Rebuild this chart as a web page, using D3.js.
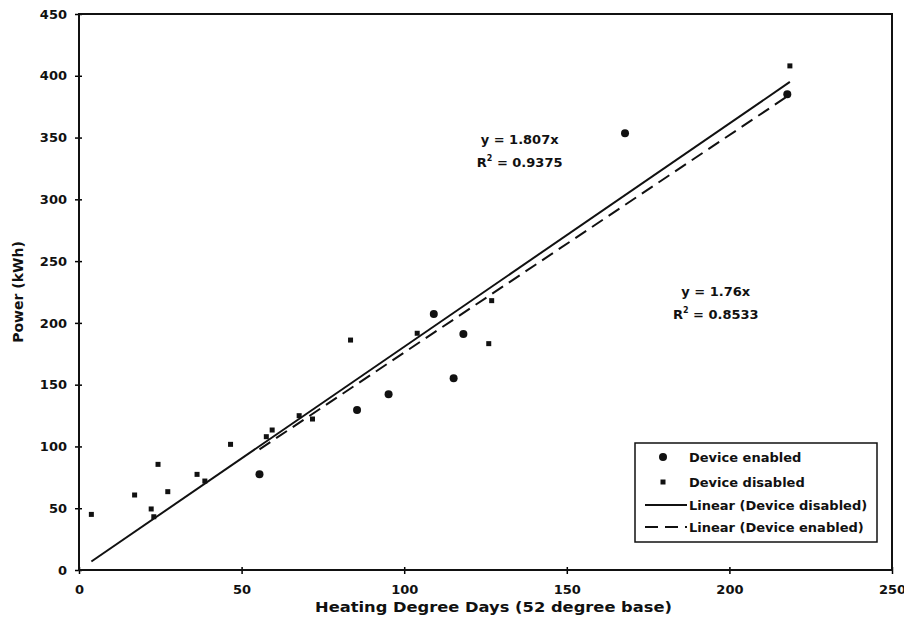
<!DOCTYPE html>
<html>
<head>
<meta charset="utf-8">
<script src="https://cdn.jsdelivr.net/npm/d3@7"></script>
<style>
  body { margin: 0; background: #fff; }
  text { font-family: "DejaVu Sans", sans-serif; font-weight: bold; fill: #111; }
</style>
</head>
<body>
<script>
const WIDTH = 904;
const HEIGHT = 631;

// values
const enabledX = [55.5, 85.5, 95.2, 115.2, 118.2, 109.1, 167.9, 217.8];
const enabledY = [77.5, 129.5, 142.2, 155.1, 191.0, 207.2, 353.4, 385.0];

const disabledX = [3.8, 17.1, 22.2, 23.0, 24.3, 27.3, 36.3, 38.7, 46.6, 57.6, 59.4, 67.7, 71.8, 83.5, 104.0, 126.0, 126.9, 218.6];
const disabledY = [45.0, 60.7, 49.4, 43.1, 85.5, 63.4, 77.4, 72.0, 101.7, 107.9, 113.3, 124.9, 122.2, 186.1, 191.6, 183.2, 218.0, 408.0];

// trendline slopes, as printed on the chart
const slopeDisabled = 1.807;
const slopeEnabled = 1.76;
const r2Disabled = "0.9375";
const r2Enabled = "0.8533";

const xTicks = [0, 50, 100, 150, 200, 250];
const yTicks = [0, 50, 100, 150, 200, 250, 300, 350, 400, 450];

const legendLabels = ["Device enabled", "Device disabled", "Linear (Device disabled)", "Linear (Device enabled)"];

const margin = { top: 14, right: 12, bottom: 61, left: 79 };

const x = d3.scaleLinear().domain([0, 250]).range([margin.left, WIDTH - margin.right]);
const y = d3.scaleLinear().domain([0, 450]).range([HEIGHT - margin.bottom, margin.top]);

const svg = d3.select("body")
  .append("svg")
  .attr("width", WIDTH)
  .attr("height", HEIGHT)
  .attr("xmlns", "http://www.w3.org/2000/svg");

// axes
const yAxis = svg.append("g")
  .attr("transform", `translate(${margin.left},0)`)
  .call(d3.axisLeft(y).tickValues(yTicks).tickSize(4).tickPadding(8));
yAxis.select(".domain").remove();
yAxis.selectAll(".tick line").attr("x1", 3).attr("x2", -4).attr("stroke-width", 1.5);
yAxis.selectAll(".tick text")
  .attr("font-size", 13)
  .attr("font-family", "DejaVu Sans")
  .attr("font-weight", "bold");

const xAxis = svg.append("g")
  .attr("transform", `translate(0,${y(0)})`)
  .call(d3.axisBottom(x).tickValues(xTicks).tickSize(4).tickPadding(11));
xAxis.select(".domain").remove();
xAxis.selectAll(".tick line").attr("y1", -3).attr("y2", 4).attr("stroke-width", 1.5);
xAxis.selectAll(".tick text")
  .attr("font-size", 13)
  .attr("font-family", "DejaVu Sans")
  .attr("font-weight", "bold");

// plot frame
svg.append("rect")
  .attr("x", x(0))
  .attr("y", y(450))
  .attr("width", x(250) - x(0))
  .attr("height", y(0) - y(450))
  .attr("fill", "none")
  .attr("stroke", "#111")
  .attr("stroke-width", 2);

// axis titles
svg.append("text")
  .attr("x", (x(0) + x(250)) / 2 + 8)
  .attr("y", 612)
  .attr("text-anchor", "middle")
  .attr("font-size", 14)
  .attr("textLength", 357)
  .attr("lengthAdjust", "spacingAndGlyphs")
  .text("Heating Degree Days (52 degree base)");

svg.append("text")
  .attr("transform", `translate(23,${(y(0) + y(450)) / 2}) rotate(-90)`)
  .attr("text-anchor", "middle")
  .attr("font-size", 14)
  .text("Power (kWh)");

// trendlines, drawn over each series' x range
const line = d3.line().x(d => x(d[0])).y(d => y(d[1]));

const dExt = d3.extent(disabledX);
svg.append("path")
  .datum(dExt.map(v => [v, slopeDisabled * v]))
  .attr("d", line)
  .attr("fill", "none")
  .attr("stroke", "#111")
  .attr("stroke-width", 2);

const eExt = d3.extent(enabledX);
svg.append("path")
  .datum(eExt.map(v => [v, slopeEnabled * v]))
  .attr("d", line)
  .attr("fill", "none")
  .attr("stroke", "#111")
  .attr("stroke-width", 2)
  .attr("stroke-dasharray", "13,7");

// points
svg.append("g")
  .selectAll("circle")
  .data(d3.zip(enabledX, enabledY))
  .join("circle")
  .attr("cx", d => x(d[0]))
  .attr("cy", d => y(d[1]))
  .attr("r", 4)
  .attr("fill", "#111");

svg.append("g")
  .selectAll("rect")
  .data(d3.zip(disabledX, disabledY))
  .join("rect")
  .attr("x", d => x(d[0]) - 2.5)
  .attr("y", d => y(d[1]) - 2.5)
  .attr("width", 5)
  .attr("height", 5)
  .attr("fill", "#111");

// equation labels
function equation(cx, cy, slope, r2) {
  svg.append("text")
    .attr("x", cx)
    .attr("y", cy)
    .attr("text-anchor", "middle")
    .attr("font-size", 13)
    .text(`y = ${slope}x`);
  const t = svg.append("text")
    .attr("x", cx)
    .attr("y", cy + 23)
    .attr("text-anchor", "middle")
    .attr("font-size", 13);
  t.append("tspan").text("R");
  t.append("tspan").attr("font-size", 8).attr("dy", -6).text("2");
  t.append("tspan").attr("dy", 6).text(` = ${r2}`);
}
equation(x(135.5), y(345), slopeDisabled, r2Disabled);
equation(x(195.8), y(221.5), slopeEnabled, r2Enabled);

// legend
const legend = svg.append("g").attr("transform", "translate(635,443)");
legend.append("rect")
  .attr("width", 242)
  .attr("height", 99)
  .attr("fill", "#fff")
  .attr("stroke", "#111")
  .attr("stroke-width", 1.5);

const rowY = [14, 39, 62, 84];
legend.selectAll("text.lbl")
  .data(legendLabels)
  .join("text")
  .attr("class", "lbl")
  .attr("x", 54)
  .attr("y", (d, i) => rowY[i] + 5)
  .attr("font-size", 13)
  .text(d => d);

legend.append("circle").attr("cx", 28).attr("cy", rowY[0]).attr("r", 4).attr("fill", "#111");
legend.append("rect").attr("x", 25.5).attr("y", rowY[1] - 2.5).attr("width", 5).attr("height", 5).attr("fill", "#111");
legend.append("line")
  .attr("x1", 10).attr("x2", 52).attr("y1", rowY[2]).attr("y2", rowY[2])
  .attr("stroke", "#111").attr("stroke-width", 2);
legend.append("line")
  .attr("x1", 10).attr("x2", 52).attr("y1", rowY[3]).attr("y2", rowY[3])
  .attr("stroke", "#111").attr("stroke-width", 2)
  .attr("stroke-dasharray", "13,7");
</script>
</body>
</html>
